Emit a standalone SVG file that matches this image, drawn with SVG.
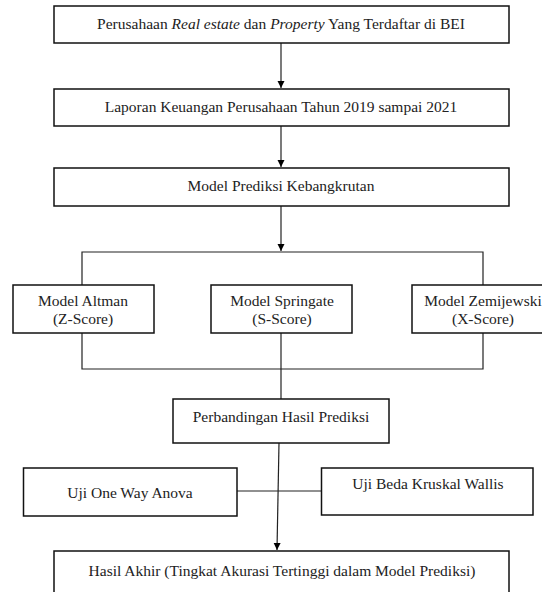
<svg xmlns="http://www.w3.org/2000/svg" width="542" height="592" viewBox="0 0 542 592">
<defs>
<marker id="ah" markerUnits="userSpaceOnUse" markerWidth="8" markerHeight="8" viewBox="0 0 8 8" refX="7" refY="4" orient="auto">
<path d="M0,0.5 L7,4 L0,7.5 Z" fill="#000"/>
</marker>
<style>
.box{fill:#fff;stroke:#111;stroke-width:1.5}
.t{font-family:"Liberation Serif","Times New Roman",serif;font-size:15.5px;fill:#222;text-anchor:middle}
.c{fill:none;stroke:#222;stroke-width:1.2}
.i{font-style:italic}
</style>
</defs>
<rect width="542" height="592" fill="#fff"/>
<g id="connectors">
<line class="c" x1="281" y1="43" x2="281" y2="88" marker-end="url(#ah)"/>
<line class="c" x1="281" y1="126" x2="281" y2="167" marker-end="url(#ah)"/>
<line class="c" x1="281" y1="206" x2="281" y2="251" marker-end="url(#ah)"/>
<polyline class="c" points="82,285 82,252 483,252 483,285"/>
<polyline class="c" points="82,333 82,369 483,369 483,333"/>
<line class="c" x1="281" y1="333" x2="281" y2="399"/>
<line class="c" x1="279" y1="443" x2="277" y2="550" marker-end="url(#ah)"/>
<line class="c" x1="237" y1="491" x2="321" y2="491"/>
</g>
<g id="n1">
<rect class="box" x="54" y="6" width="455" height="37"/>
<text class="t" x="281" y="29">Perusahaan <tspan class="i">Real estate</tspan> dan <tspan class="i">Property</tspan> Yang Terdaftar di BEI</text>
</g>
<g id="n2">
<rect class="box" x="54" y="89" width="455" height="37"/>
<text class="t" x="281" y="111.5">Laporan Keuangan Perusahaan Tahun 2019 sampai 2021</text>
</g>
<g id="n3">
<rect class="box" x="54" y="168" width="455" height="38"/>
<text class="t" x="281" y="190.5">Model Prediksi Kebangkrutan</text>
</g>
<g id="altman">
<rect class="box" x="13" y="285" width="141" height="48"/>
<text class="t" x="83" y="306">Model Altman</text>
<text class="t" x="83" y="324">(Z-Score)</text>
</g>
<g id="springate">
<rect class="box" x="211" y="285" width="141" height="48"/>
<text class="t" x="282" y="306">Model Springate</text>
<text class="t" x="282" y="324">(S-Score)</text>
</g>
<g id="zemijewski">
<rect class="box" x="412" y="285" width="144" height="48"/>
<text class="t" x="483" y="306">Model Zemijewski</text>
<text class="t" x="483" y="324">(X-Score)</text>
</g>
<g id="perbandingan">
<rect class="box" x="173" y="399" width="216" height="44"/>
<text class="t" x="281" y="421.5">Perbandingan Hasil Prediksi</text>
</g>
<g id="anova">
<rect class="box" x="23.5" y="468" width="213.5" height="48"/>
<text class="t" x="130" y="498">Uji One Way Anova</text>
</g>
<g id="kruskal">
<rect class="box" x="321.5" y="468" width="211.5" height="47"/>
<text class="t" x="428" y="489">Uji Beda Kruskal Wallis</text>
</g>
<g id="hasil">
<rect class="box" x="54" y="551" width="455" height="60"/>
<text class="t" x="282" y="576">Hasil Akhir (Tingkat Akurasi Tertinggi dalam Model Prediksi)</text>
</g>
</svg>
